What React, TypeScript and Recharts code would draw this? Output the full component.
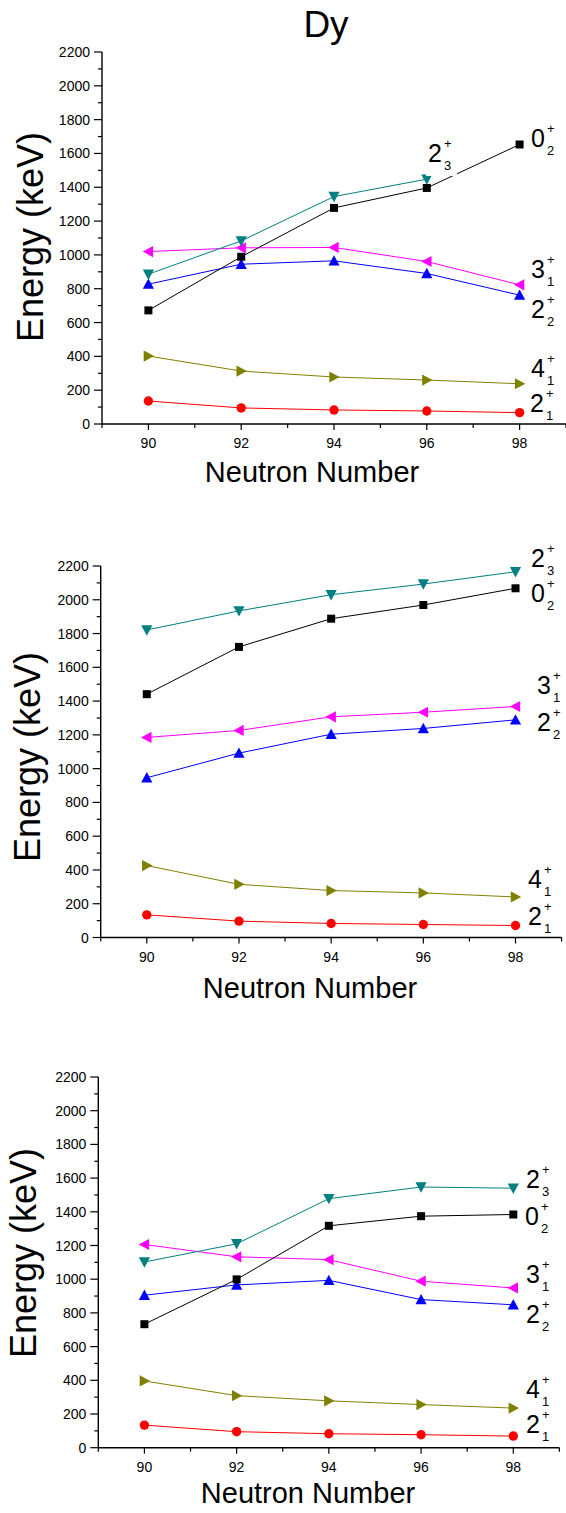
import { LineChart, Line, XAxis, YAxis } from 'recharts'

// neutron number of the Dy isotopes (N = 90 ... 98)
const neutrons = [90, 92, 94, 96, 98]

// panel 1 (top)
const topE21 = [136, 95, 83, 77, 67]
const topE41 = [402, 313, 278, 260, 238]
const topE22 = [827, 945, 965, 890, 762]
const topE31 = [1020, 1042, 1044, 961, 823]
const topE23 = [886, 1083, 1345, 1448, null]
const topE02 = [672, 989, 1278, 1396, 1653]

// panel 2 (middle)
const midE21 = [134, 97, 83, 77, 71]
const midE41 = [426, 315, 278, 264, 240]
const midE22 = [946, 1092, 1204, 1238, 1289]
const midE31 = [1185, 1226, 1307, 1334, 1368]
const midE02 = [1441, 1721, 1888, 1969, 2068]
const midE23 = [1821, 1934, 2030, 2093, 2166]

// panel 3 (bottom)
const botE21 = [134, 95, 83, 77, 69]
const botE41 = [396, 309, 278, 256, 235]
const botE22 = [905, 966, 993, 879, 848]
const botE31 = [1206, 1133, 1116, 988, 948]
const botE02 = [733, 999, 1317, 1374, 1384]
const botE23 = [1102, 1210, 1478, 1547, 1540]

const xTicks = [89, 90, 91, 92, 93, 94, 95, 96, 97, 98, 99]
const yTicks = Array.from({ length: 23 }, (_, i) => i * 100)

// state labels: [J, index]
const stateNames: Record<string, [string, string]> = {
  e21: ['2', '1'],
  e41: ['4', '1'],
  e22: ['2', '2'],
  e31: ['3', '1'],
  e23: ['2', '3'],
  e02: ['0', '2'],
}

const FONT = '"Liberation Sans", Arial, Helvetica, sans-serif'

const seriesStyle = [
  { key: 'e21', color: '#ff0000', shape: 'circle' },
  { key: 'e41', color: '#808000', shape: 'right' },
  { key: 'e22', color: '#0000ff', shape: 'up' },
  { key: 'e31', color: '#ff00ff', shape: 'left' },
  { key: 'e23', color: '#008080', shape: 'down' },
  { key: 'e02', color: '#000000', shape: 'square' },
]

function buildRows(cols: Record<string, (number | null)[]>) {
  return neutrons.map((n, i) => {
    const row: Record<string, number | null> = { n }
    Object.keys(cols).forEach((k) => (row[k] = cols[k][i]))
    return row
  })
}

const panels = [
  {
    rows: buildRows({ e21: topE21, e41: topE41, e22: topE22, e31: topE31, e23: topE23, e02: topE02 }),
    top: 0, height: 500, plotTop: 52, axisY: 424, axisX: 102, xRight: 566,
    yTitle: { x: 43, y: 237 }, xTitle: { x: 312, y: 482 },
    labels: {
      e02: [531, 147], e23: [428, 162], e31: [531, 278], e22: [531, 318], e41: [531, 377], e21: [530, 412],
    } as Record<string, [number, number]>,
    boxed: ['e23'],
  },
  {
    rows: buildRows({ e21: midE21, e41: midE41, e22: midE22, e31: midE31, e23: midE23, e02: midE02 }),
    top: 500, height: 500, plotTop: 566, axisY: 937.5, axisX: 100.7, xRight: 561.6,
    yTitle: { x: 40, y: 757 }, xTitle: { x: 310, y: 998 },
    labels: {
      e23: [531, 567], e02: [531, 602], e31: [537, 694], e22: [537, 731], e41: [528, 888], e21: [528, 925],
    } as Record<string, [number, number]>,
    boxed: [],
  },
  {
    rows: buildRows({ e21: botE21, e41: botE41, e22: botE22, e31: botE31, e23: botE23, e02: botE02 }),
    top: 1000, height: 513, plotTop: 1077, axisY: 1447.7, axisX: 98.3, xRight: 559.4,
    yTitle: { x: 36, y: 1253 }, xTitle: { x: 308, y: 1503 },
    labels: {
      e23: [526, 1188], e02: [525, 1225], e31: [526, 1283], e22: [526, 1323], e41: [526, 1398], e21: [526, 1433],
    } as Record<string, [number, number]>,
    boxed: [],
  },
]

function Marker({ cx, cy, shape, color }: { cx: number; cy: number; shape: string; color: string }) {
  if (cx == null || cy == null || isNaN(cx) || isNaN(cy)) return <g />
  const w = 5.6
  const h = 4.7
  switch (shape) {
    case 'circle':
      return <circle cx={cx} cy={cy} r={4.7} fill={color} />
    case 'square':
      return <rect x={cx - 4} y={cy - 4} width={8} height={8} fill={color} />
    case 'up':
      return <polygon points={`${cx},${cy - h - 1} ${cx + w},${cy + h} ${cx - w},${cy + h}`} fill={color} />
    case 'down':
      return <polygon points={`${cx},${cy + h + 1} ${cx + w},${cy - h} ${cx - w},${cy - h}`} fill={color} />
    case 'left':
      return <polygon points={`${cx - h - 1},${cy} ${cx + h},${cy - w} ${cx + h},${cy + w}`} fill={color} />
    default:
      return <polygon points={`${cx + h + 1},${cy} ${cx - h},${cy - w} ${cx - h},${cy + w}`} fill={color} />
  }
}

function XTick(props: any) {
  const { x, y, payload } = props
  const v = payload.value
  const major = v % 2 === 0
  return (
    <g>
      <line x1={x} x2={x} y1={y} y2={y + (major ? 6 : 4)} stroke='#000' strokeWidth={1.2} />
      {major && (
        <text x={x} y={y + 24} textAnchor='middle' fontSize={14} fontFamily={FONT} fill='#000'>
          {v}
        </text>
      )}
    </g>
  )
}

function YTick(props: any) {
  const { x, y, payload } = props
  const v = payload.value
  const major = v % 200 === 0
  return (
    <g>
      <line x1={x} x2={x - (major ? 8 : 4)} y1={y} y2={y} stroke='#000' strokeWidth={1.2} />
      {major && (
        <text x={x - 12} y={y} dy='0.36em' textAnchor='end' fontSize={14} fontFamily={FONT} fill='#000'>
          {v}
        </text>
      )}
    </g>
  )
}

function StateLabel({ x, y, name, boxed }: { x: number; y: number; name: [string, string]; boxed: boolean }) {
  return (
    <g fontFamily={FONT} fill='#000'>
      {boxed && <rect x={x - 2} y={y - 26} width={31} height={40} fill='#fff' />}
      <text x={x} y={y} fontSize={25}>{name[0]}</text>
      <text x={x + 16} y={y - 14} fontSize={13}>+</text>
      <text x={x + 16} y={y + 8} fontSize={13}>{name[1]}</text>
    </g>
  )
}

export default function App() {
  const axisLine = { stroke: '#000', strokeWidth: 1.4 }
  return (
    <div style={{ position: 'absolute', left: 0, top: 0, width: 566, height: 1513, background: '#fff', overflow: 'hidden' }}>
      {panels.map((p, pi) => (
        <div key={pi} style={{ position: 'absolute', left: 0, top: p.top }}>
          <LineChart
            width={566}
            height={p.height}
            data={p.rows}
            margin={{
              top: p.plotTop - p.top,
              right: 566 - p.xRight,
              bottom: p.height - (p.axisY - p.top) - 30,
              left: p.axisX - 60,
            }}
          >
            <XAxis
              dataKey='n'
              type='number'
              domain={[89, 99]}
              ticks={xTicks}
              interval={0}
              height={30}
              tickLine={false}
              tickSize={0}
              tickMargin={0}
              axisLine={axisLine}
              tick={(t: any) => <XTick {...t} />}
            />
            <YAxis
              type='number'
              domain={[0, 2200]}
              ticks={yTicks}
              interval={0}
              width={60}
              tickLine={false}
              tickSize={0}
              tickMargin={0}
              axisLine={axisLine}
              tick={(t: any) => <YTick {...t} />}
            />
            {seriesStyle.map((s) => (
              <Line
                key={s.key}
                dataKey={s.key}
                type='linear'
                stroke={s.color}
                strokeWidth={1}
                isAnimationActive={false}
                dot={(d: any) => (
                  <Marker key={`${s.key}-${d.index}`} cx={d.cx} cy={d.cy} shape={s.shape} color={s.color} />
                )}
                activeDot={false}
              />
            ))}
          </LineChart>
        </div>
      ))}
      <svg width={566} height={1513} style={{ position: 'absolute', left: 0, top: 0, pointerEvents: 'none' }}>
        <text x={326} y={37} textAnchor='middle' fontSize={37} fontFamily={FONT} fill='#000'>
          Dy
        </text>
        {panels.map((p, pi) => (
          <g key={pi}>
            <text
              x={p.yTitle.x}
              y={p.yTitle.y}
              transform={`rotate(-90, ${p.yTitle.x}, ${p.yTitle.y})`}
              textAnchor='middle'
              fontSize={36}
              fontFamily={FONT}
              fill='#000'
            >
              Energy (keV)
            </text>
            <text x={p.xTitle.x} y={p.xTitle.y} textAnchor='middle' fontSize={29} fontFamily={FONT} fill='#000'>
              Neutron Number
            </text>
            {Object.keys(p.labels).map((k) => (
              <StateLabel
                key={k}
                x={p.labels[k][0]}
                y={p.labels[k][1]}
                name={stateNames[k]}
                boxed={p.boxed.includes(k)}
              />
            ))}
          </g>
        ))}
      </svg>
    </div>
  )
}
